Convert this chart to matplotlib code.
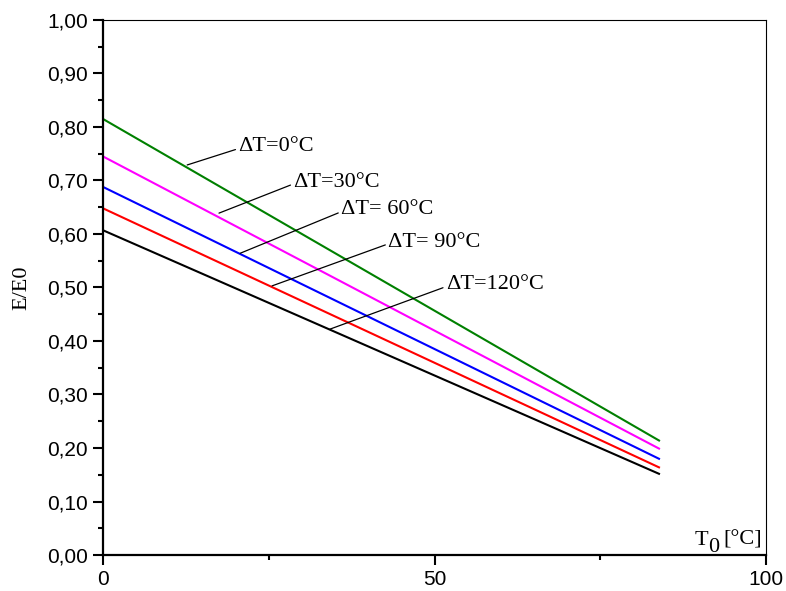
import matplotlib.pyplot as plt
from matplotlib.ticker import FixedLocator, FuncFormatter

# data
t0 = [0, 84]
e_dt0 = [0.815, 0.213]
e_dt30 = [0.745, 0.198]
e_dt60 = [0.688, 0.179]
e_dt90 = [0.648, 0.163]
e_dt120 = [0.607, 0.151]

series = [e_dt0, e_dt30, e_dt60, e_dt90, e_dt120]
colors = ["#008000", "#ff00ff", "#0000ff", "#ff0000", "#000000"]
labels = ["\u0394T=0\u00b0C", "\u0394T=30\u00b0C", "\u0394T= 60\u00b0C",
          "\u0394T= 90\u00b0C", "\u0394T=120\u00b0C"]
# leader start on line / label position
label_xy = [(12.7, 0.729), (17.5, 0.639), (20.7, 0.564), (25.5, 0.503), (34.2, 0.422)]
label_text = [(20.4, 0.763), (28.7, 0.697), (35.9, 0.645), (43.0, 0.585), (51.7, 0.505)]

fig = plt.figure(figsize=(7.86, 5.91), dpi=100)
ax = fig.add_axes([0.131, 0.0609, 0.8436, 0.9053])

for vals, c in zip(series, colors):
    ax.plot(t0, vals, color=c, lw=1.5, solid_capstyle="butt")

serif = "Liberation Serif"
for lab, xy, xt in zip(labels, label_xy, label_text):
    ax.annotate(lab, xy=xy, xytext=xt, ha="left", va="center",
                fontsize=16, family=serif,
                arrowprops=dict(arrowstyle="-", lw=0.9, color="black",
                                shrinkA=0, shrinkB=0, relpos=(0, 0.4)))

ax.set_xlim(0, 100)
ax.set_ylim(0, 1.0)

ax.xaxis.set_major_locator(FixedLocator([0, 50, 100]))
ax.xaxis.set_minor_locator(FixedLocator([25, 75]))
ax.yaxis.set_major_locator(FixedLocator([i / 10 for i in range(11)]))
ax.yaxis.set_minor_locator(FixedLocator([i / 10 + 0.05 for i in range(10)]))
ax.yaxis.set_major_formatter(FuncFormatter(lambda v, p: f"{v:.2f}".replace(".", ",")))

ax.tick_params(which="major", direction="out", length=7, width=1.5,
               labelsize=15, labelfontfamily="Liberation Sans", pad=4)
ax.tick_params(which="minor", direction="out", length=3.5, width=1.5)
ax.tick_params(top=False, right=False)

ax.spines["left"].set_linewidth(1.6)
ax.spines["bottom"].set_linewidth(1.6)
ax.spines["top"].set_linewidth(0.8)
ax.spines["right"].set_linewidth(0.8)

fig.text(22 / 786, 1 - 288 / 591, "E/E0", rotation=90, ha="center", va="center",
         fontsize=16, family=serif)

# x label drawn inside axes, lower right, with lowered "0"
fig.text(695 / 786, 1 - 545 / 591, "T", fontsize=16, family=serif, ha="left", va="baseline")
fig.text(708 / 786, 1 - 552 / 591, "0", fontsize=16, family=serif, ha="left", va="baseline")
fig.text(723 / 786, 1 - 545 / 591, "[\u00b0C]", fontsize=16, family=serif, ha="left", va="baseline")

fig.savefig("out.png", dpi=100)
